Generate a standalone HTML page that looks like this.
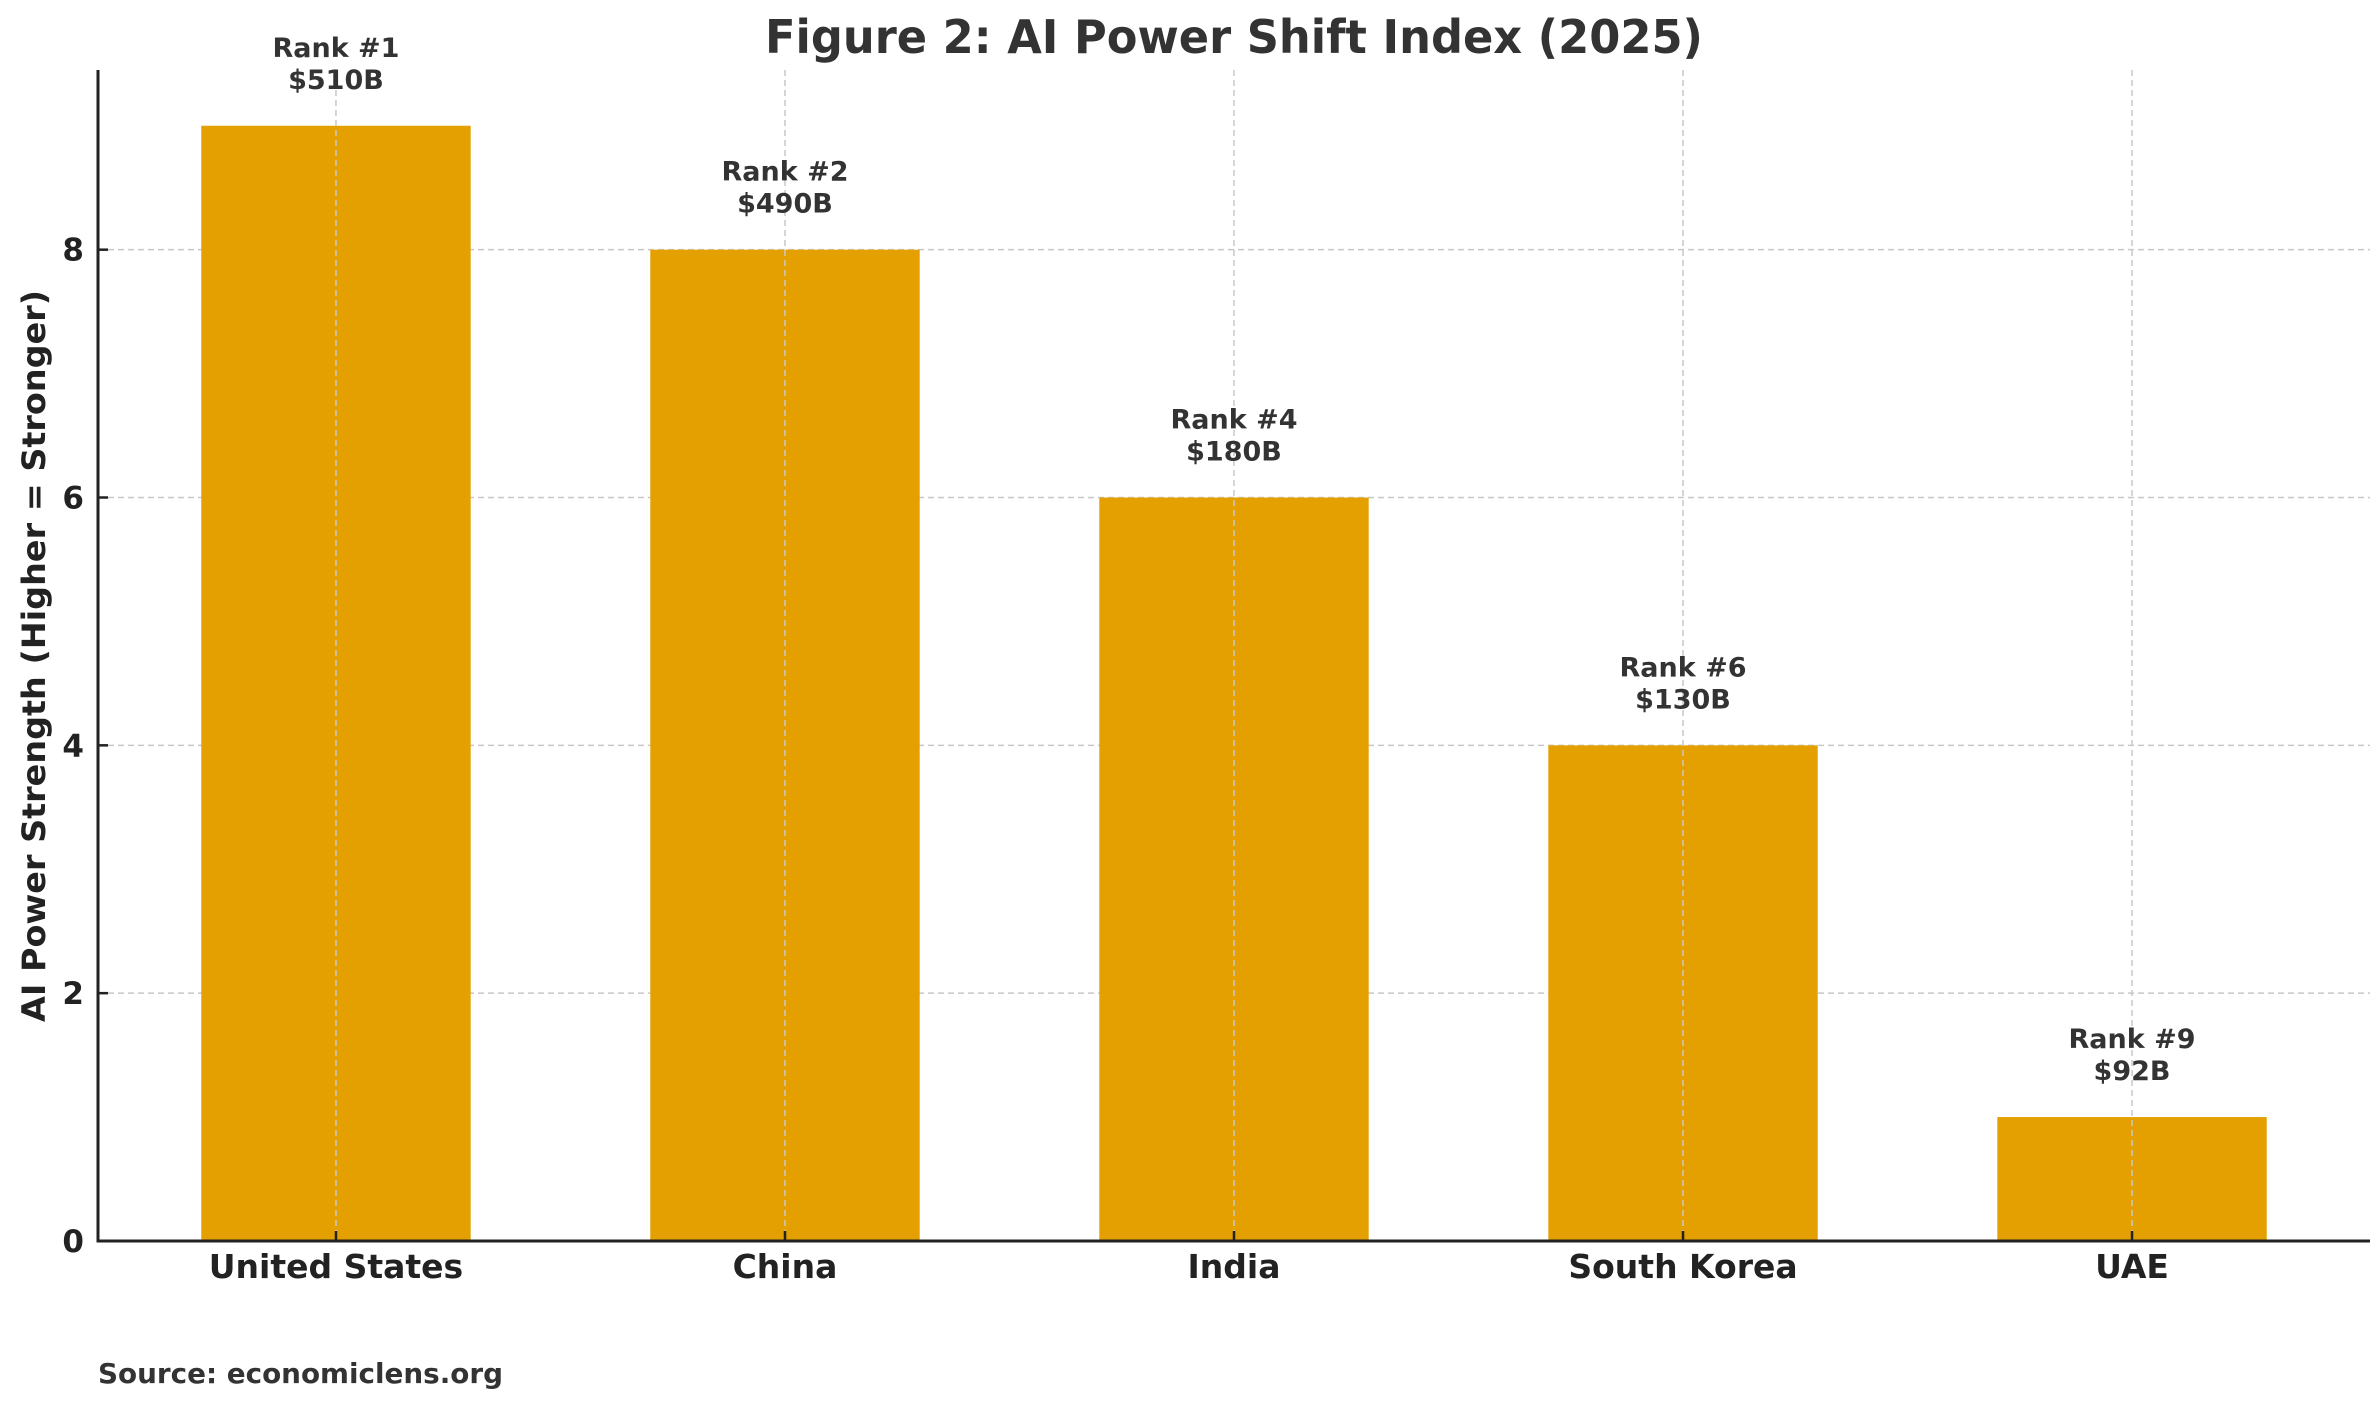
<!DOCTYPE html>
<html><head><meta charset="utf-8"><style>
html,body{margin:0;padding:0;background:#fff;}
svg{display:block;font-family:"DejaVu Sans","Liberation Sans",sans-serif;font-weight:bold;}
</style></head><body>
<svg id="chart" width="2379" height="1402" viewBox="0 0 2379 1402" xmlns="http://www.w3.org/2000/svg">
<text x="1234" y="53" text-anchor="middle" font-size="46" fill="#333" textLength="938" lengthAdjust="spacingAndGlyphs">Figure 2: AI Power Shift Index (2025)</text>
<g id="grid"></g>
<g id="bars"></g>
<g id="labels"></g>
<g id="axes"></g>
<text transform="translate(45,656) rotate(-90)" text-anchor="middle" font-size="32" fill="#222" textLength="732" lengthAdjust="spacingAndGlyphs">AI Power Strength (Higher = Stronger)</text>
<text x="98" y="1383" font-size="28" fill="#333" textLength="405" lengthAdjust="spacingAndGlyphs">Source: economiclens.org</text>
</svg>
<script>
const categories = ["United States","China","India","South Korea","UAE"];
const values = [9, 8, 6, 4, 1];
const ranks = ["Rank #1","Rank #2","Rank #4","Rank #6","Rank #9"];
const investments = ["$510B","$490B","$180B","$130B","$92B"];
const yTicks = [0, 2, 4, 6, 8];

const NS = "http://www.w3.org/2000/svg";
const L = 98, R = 2370, T = 70, B = 1241;
const xMin = -0.53, xMax = categories.length - 1 + 0.53, yMax = 9.45;
const xs = i => L + (i - xMin) / (xMax - xMin) * (R - L);
const ys = v => B - v / yMax * (B - T);
const bandW = (R - L) / (xMax - xMin);
function mk(tag, attrs, parent) {
  const e = document.createElementNS(NS, tag);
  for (const k in attrs) e.setAttribute(k, attrs[k]);
  parent.appendChild(e);
  return e;
}
const grid = document.getElementById('grid');
const bars = document.getElementById('bars');
const labels = document.getElementById('labels');
const axes = document.getElementById('axes');

yTicks.forEach(t => {
  if (t > 0) {
    const g = mk('line', {x1: L, x2: R, y1: ys(t), y2: ys(t), stroke: '#c8c8c8', 'stroke-width': 1.5, 'stroke-dasharray': '6,4'}, grid);
    
    
  }
  const tk = mk('line', {x1: L, x2: L + 10, y1: ys(t), y2: ys(t), stroke: '#222', 'stroke-width': 2.5}, axes);
  
  
  const tl = mk('text', {x: L - 14, y: ys(t) + 11, 'text-anchor': 'end', 'font-size': 31, fill: '#222'}, labels);
  tl.textContent = t;
  
  
});

categories.forEach((c, i) => {
  const cx = xs(i);
  const w = 0.6 * bandW;
  const r = mk('rect', {x: cx - w / 2, y: ys(values[i]), width: w, height: B - ys(values[i]), fill: '#E3A000'}, bars);
  
  
  const g = mk('line', {x1: cx, x2: cx, y1: T, y2: B, stroke: '#c8c8c8', 'stroke-width': 1.5, 'stroke-dasharray': '6,4'}, labels);
  
  
  const tk = mk('line', {x1: cx, x2: cx, y1: B, y2: B - 10, stroke: '#222', 'stroke-width': 2.5}, axes);
  
  
  const xl = mk('text', {x: cx, y: 1278, 'text-anchor': 'middle', 'font-size': 33, fill: '#222'}, labels);
  xl.textContent = c;
  
  
  const top = ys(values[i]);
  const a1 = mk('text', {x: cx, y: top - 69, 'text-anchor': 'middle', 'font-size': 27, fill: '#333'}, labels);
  a1.textContent = ranks[i];
  
  
  const a2 = mk('text', {x: cx, y: top - 37, 'text-anchor': 'middle', 'font-size': 27, fill: '#333'}, labels);
  a2.textContent = investments[i];
  
  
});

const ya = mk('line', {x1: L, x2: L, y1: T, y2: B + 1.5, stroke: '#222', 'stroke-width': 3}, axes);


const xa = mk('line', {x1: L - 1.5, x2: R, y1: B, y2: B, stroke: '#222', 'stroke-width': 3}, axes);


</script>
</body></html>
